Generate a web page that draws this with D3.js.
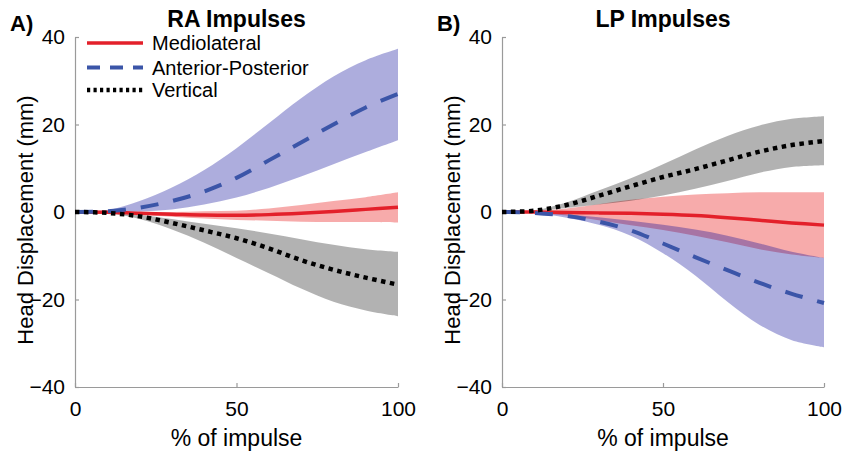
<!DOCTYPE html>
<html>
<head>
<meta charset="utf-8">
<script src="https://cdn.jsdelivr.net/npm/d3@7"></script>
<style>
  html, body { margin: 0; padding: 0; background: #fff; }
  svg text { font-family: "Liberation Sans", Arial, Helvetica, sans-serif; fill: #000; }
</style>
</head>
<body>
<svg id="chart" width="844" height="455"></svg>
<script>
// ---------- data ----------
const pct = [0, 10, 20, 30, 40, 50, 60, 70, 80, 90, 100];
const xTicks = [0, 50, 100];
const yTicks = [-40, -20, 0, 20, 40];
const seriesNames = ["Mediolateral", "Anterior-Posterior", "Vertical"];
const panelTitles = ["RA Impulses", "LP Impulses"];
const panelLetters = ["A)", "B)"];
const xLabel = "% of impulse";
const yLabel = "Head Displacement (mm)";

// RA impulses
const raML   = [0, -0.05, -0.3, -0.5, -0.7, -0.75, -0.6, -0.3, 0.1, 0.6, 1.1];
const raMLHi = [0, 0.05, 0.0, 0.0, 0.2, 0.3, 0.8, 1.6, 2.5, 3.4, 4.5];
const raMLLo = [0, -0.2, -0.6, -1.1, -1.5, -1.8, -2.0, -2.2, -2.3, -2.3, -2.4];
const raAP   = [0, 0.15, 1.0, 2.5, 4.7, 7.8, 11.8, 15.9, 20.0, 23.9, 27.0];
const raAPHi = [0, 0.4, 2.5, 5.6, 9.6, 14.6, 20.3, 26.0, 31.0, 34.7, 37.3];
const raAPLo = [0, 0.0, 0.1, 0.6, 1.7, 3.3, 5.5, 8.1, 10.9, 13.7, 16.4];
const raV    = [0, -0.2, -1.0, -2.5, -4.2, -6.0, -8.3, -11.0, -13.2, -15.0, -16.6];
const raVHi  = [0, -0.1, -0.6, -1.6, -2.7, -3.7, -4.9, -6.2, -7.5, -8.5, -9.1];
const raVLo  = [0, -0.3, -1.6, -4.0, -7.0, -10.5, -14.0, -17.5, -20.5, -22.5, -23.8];

// LP impulses
const lpML   = [0, 0.0, -0.1, -0.2, -0.3, -0.5, -0.8, -1.3, -1.9, -2.5, -3.0];
const lpMLHi = [0, 0.2, 0.8, 1.8, 2.8, 3.5, 4.0, 4.3, 4.5, 4.5, 4.5];
const lpMLLo = [0, -0.2, -0.8, -1.9, -3.0, -4.1, -5.4, -6.9, -8.5, -9.7, -10.5];
const lpAP   = [0, -0.2, -0.9, -2.2, -4.2, -7.2, -10.3, -13.3, -16.2, -18.7, -20.8];
const lpAPHi = [0, -0.1, -0.5, -1.2, -2.0, -2.9, -4.0, -5.4, -7.2, -9.1, -10.5];
const lpAPLo = [0, -0.3, -1.3, -2.9, -5.4, -9.4, -14.5, -20.5, -25.8, -29.3, -30.9];
const lpV    = [0, 0.3, 1.6, 3.7, 5.9, 8.0, 9.8, 11.8, 13.8, 15.3, 16.2];
const lpVHi  = [0, 0.4, 2.2, 4.9, 7.7, 10.9, 14.3, 17.4, 19.8, 21.3, 21.9];
const lpVLo  = [0, 0.2, 0.9, 1.7, 2.6, 3.8, 5.3, 7.1, 9.0, 10.3, 10.7];

// ---------- styles ----------
const styles = [
  { line: "#e3202a", band: "rgb(230,0,0)",  bandOp: 0.33, width: 3.5, dash: null,      legDash: null },
  { line: "#3b55a8", band: "rgb(0,0,150)",  bandOp: 0.32, width: 4,   dash: "18,15",   legDash: "13,10" },
  { line: "#000000", band: "rgb(0,0,0)",    bandOp: 0.30, width: 4.5, dash: "4.5,4.5", legDash: "3.2,3.3" }
];

const panels = [
  { series: [[raML, raMLLo, raMLHi], [raAP, raAPLo, raAPHi], [raV, raVLo, raVHi]], x0: 75, x1: 398 },
  { series: [[lpML, lpMLLo, lpMLHi], [lpAP, lpAPLo, lpAPHi], [lpV, lpVLo, lpVHi]], x0: 502, x1: 824 }
];

const svg = d3.select("#chart");
const yTop = 37, yBot = 387;
const curve = d3.curveCatmullRom.alpha(0.5);

panels.forEach((p, pi) => {
  const x = d3.scaleLinear().domain([0, 100]).range([p.x0, p.x1]);
  const y = d3.scaleLinear().domain([-40, 40]).range([yBot, yTop]);
  const g = svg.append("g");

  // bands
  p.series.forEach((s, si) => {
    const [m, lo, hi] = s;
    const area = d3.area()
      .x((d, i) => x(pct[i]))
      .y0((d, i) => y(lo[i]))
      .y1((d, i) => y(hi[i]))
      .curve(curve);
    g.append("path")
      .datum(m)
      .attr("d", area)
      .attr("fill", styles[si].band)
      .attr("fill-opacity", styles[si].bandOp)
      .attr("stroke", "none");
  });

  // axes
  const xAxis = d3.axisBottom(x).tickValues(xTicks).tickSizeInner(-4).tickSizeOuter(0).tickPadding(10);
  const yAxis = d3.axisLeft(y).tickValues(yTicks).tickSizeInner(-4).tickSizeOuter(0).tickPadding(10);
  const gx = g.append("g").attr("transform", `translate(0,${yBot})`).call(xAxis);
  const gy = g.append("g").attr("transform", `translate(${p.x0},0)`).call(yAxis);
  [gx, gy].forEach(a => {
    a.select(".domain").attr("stroke", "#9a9a9a").attr("stroke-width", 1.2);
    a.selectAll(".tick line").attr("stroke", "#9a9a9a").attr("stroke-width", 1.2);
    a.selectAll(".tick text").attr("font-size", 21).attr("fill", "#000")
      .style("font-family", '"Liberation Sans", Arial, sans-serif');
  });
  gx.selectAll(".tick text").attr("dy", "0.92em");

  // lines
  p.series.forEach((s, si) => {
    const [m] = s;
    const line = d3.line()
      .x((d, i) => x(pct[i]))
      .y(d => y(d))
      .curve(curve);
    const path = g.append("path")
      .datum(m)
      .attr("d", line)
      .attr("fill", "none")
      .attr("stroke", styles[si].line)
      .attr("stroke-width", styles[si].width)
      .attr("stroke-linecap", "butt");
    if (styles[si].dash) path.attr("stroke-dasharray", styles[si].dash);
  });

  // labels
  const cx = (p.x0 + p.x1) / 2;
  g.append("text").attr("x", cx).attr("y", 446).attr("text-anchor", "middle")
    .attr("font-size", 23).text(xLabel);
  g.append("text")
    .attr("transform", `translate(${p.x0 - 42},${(yTop + yBot) / 2 + 8}) rotate(-90)`)
    .attr("text-anchor", "middle").attr("font-size", 22).text(yLabel);
  g.append("text").attr("x", cx).attr("y", 27).attr("text-anchor", "middle")
    .attr("font-size", 23).attr("font-weight", "bold").text(panelTitles[pi]);
  g.append("text").attr("x", p.x0 - 65).attr("y", 31)
    .attr("font-size", 22).attr("font-weight", "bold").text(panelLetters[pi]);
});

// legend (panel A)
const legY = [43, 67.5, 90];
const leg = svg.append("g");
seriesNames.forEach((name, si) => {
  const l = leg.append("line")
    .attr("x1", 87).attr("x2", 143).attr("y1", legY[si]).attr("y2", legY[si])
    .attr("stroke", styles[si].line).attr("stroke-width", styles[si].width);
  if (styles[si].legDash) l.attr("stroke-dasharray", styles[si].legDash);
  leg.append("text").attr("x", 152).attr("y", legY[si]).attr("dy", "0.35em")
    .attr("font-size", 20).text(name);
});
</script>
</body>
</html>
